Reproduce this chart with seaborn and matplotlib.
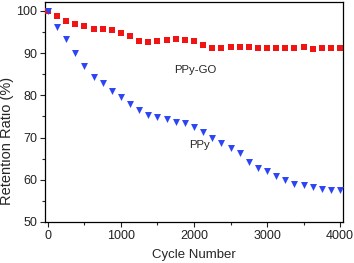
import numpy as np
import pandas as pd
import matplotlib
matplotlib.use('Agg')
import matplotlib.pyplot as plt
from matplotlib.ticker import MultipleLocator
import seaborn as sns

# cycle numbers (every 125 cycles, 0..4000)
cycles = list(range(0, 4001, 125))

ppy_go = [100.0, 98.7, 97.6, 96.8, 96.5, 95.8, 95.8, 95.4, 94.7, 94.0,
          92.9, 92.7, 92.9, 93.1, 93.3, 93.1, 92.9, 92.0, 91.2, 91.2,
          91.4, 91.4, 91.5, 91.3, 91.3, 91.3, 91.3, 91.3, 91.5, 91.1,
          91.3, 91.3, 91.3]

ppy = [100.0, 96.2, 93.3, 90.0, 87.0, 84.4, 82.9, 81.0, 79.5, 77.9,
       76.6, 75.4, 74.8, 74.3, 73.8, 73.4, 72.4, 71.4, 70.0, 68.8,
       67.5, 66.3, 64.1, 62.7, 62.0, 61.0, 60.0, 59.1, 58.7, 58.3,
       57.9, 57.5, 57.6]

df = pd.DataFrame({'cycle': cycles, 'PPy-GO': ppy_go, 'PPy': ppy})

sns.set_style('ticks')
plt.rcParams['font.family'] = ['Liberation Sans', 'DejaVu Sans']

fig = plt.figure(figsize=(3.54, 2.63), dpi=100)
ax = fig.add_axes([0.127, 0.156, 0.842, 0.836])

sns.scatterplot(x='cycle', y='PPy-GO', data=df, ax=ax, marker='s',
                color='#f01414', s=17, linewidth=0, zorder=3)
sns.scatterplot(x='cycle', y='PPy', data=df, ax=ax, marker='v',
                color='#2b44f5', s=25, linewidth=0, zorder=3)

ax.text(2015, 85.9, 'PPy-GO', fontsize=8.2, ha='center', va='center')
ax.text(2070, 68.2, 'PPy', fontsize=8.2, ha='center', va='center')

ax.set_xlim(-40, 4040)
ax.set_ylim(50, 102.1)
ax.xaxis.set_major_locator(MultipleLocator(1000))
ax.xaxis.set_minor_locator(MultipleLocator(500))
ax.yaxis.set_major_locator(MultipleLocator(10))
ax.yaxis.set_minor_locator(MultipleLocator(5))
ax.tick_params(which='major', length=3.5, width=0.8, labelsize=9, pad=2,
               colors='#222222')
ax.tick_params(which='minor', length=2, width=0.8)
for s in ax.spines.values():
    s.set_linewidth(0.9)
    s.set_color('black')

ax.set_xlabel('Cycle Number', fontsize=9.5, labelpad=5.5)
ax.set_ylabel('Retention Ratio (%)', fontsize=10.5)
ax.yaxis.set_label_coords(-0.105, 0.37)

fig.savefig('out.png', dpi=100)
